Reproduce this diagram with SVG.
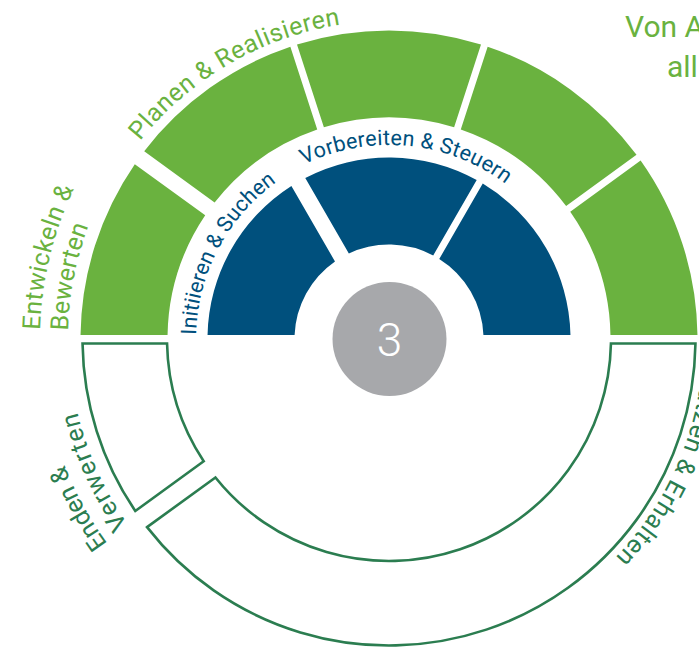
<svg xmlns="http://www.w3.org/2000/svg" width="699" height="649" viewBox="0 0 699 649">
  <style>
    .seg-green { fill: #6ab23f; }
    .seg-blue { fill: #00507d; }
    .seg-open { fill: #ffffff; stroke: #2b7d50; stroke-width: 2.6; }
    .hub { fill: #a7a8ab; }
    .lbl { font-family: Roboto, "Liberation Sans", sans-serif; font-size: 25px; }
    .lbl-green { fill: #6ab23f; }
    .lbl-blue { fill: #00507d; font-size: 21.5px; }
    .lbl-dark { fill: #2b7d50; }
    .title { font-family: Roboto, "Liberation Sans", sans-serif; font-size: 30px; fill: #6ab23f; }
    .num { font-family: Roboto, "Liberation Sans", sans-serif; font-size: 46px; font-weight: 300; fill: #ffffff; text-anchor: middle; }
  </style>
  <defs>
    <!-- baselines for the curved labels, all running clockwise around (389,339) -->
    <path id="arc-entwickeln" d="M 40.12,329.86 A 349 349 0 0 1 214.5,36.76"/>
    <path id="arc-bewerten" d="M 68.11,330.6 A 321 321 0 0 1 228.5,61.01"/>
    <path id="arc-planen" d="M 140.13,141.04 A 318 318 0 0 1 548,63.6"/>
    <path id="arc-initiieren" d="M 196.04,334.96 A 193 193 0 0 1 322.99,157.64"/>
    <path id="arc-vorbereiten" d="M 303.96,164.63 A 194 194 0 0 1 537.61,214.3"/>
    <path id="arc-erhalten" d="M 546.25,66.64 A 314.5 314.5 0 0 1 614.85,557.87"/>
    <path id="arc-enden" d="M 107.46,543.55 A 348 348 0 0 1 61.99,219.98"/>
    <path id="arc-verwerten" d="M 128.16,524.37 A 320 320 0 0 1 88.3,229.55"/>
  </defs>

  <!-- heading, running off the right edge -->
  <g id="heading">
    <text class="title" x="625" y="37">Von A</text>
    <text class="title" x="667" y="77">all</text>
  </g>

  <!-- outer ring, upper half -->
  <g id="entwickeln-bewerten">
    <path class="seg-green" d="M 80.53,335 A 308.5 308.5 0 0 1 134.8,164.2 L 205.22,215.36 A 221.5 221.5 0 0 0 167.54,335 Z"/>
    <text class="lbl lbl-green"><textPath href="#arc-entwickeln" textLength="146">Entwickeln &amp;</textPath></text>
    <text class="lbl lbl-green"><textPath href="#arc-bewerten" textLength="107">Bewerten</textPath></text>
  </g>
  <g id="planen-realisieren">
    <path class="seg-green" d="M 144.21,151.26 A 308.5 308.5 0 0 1 290.35,46.7 L 317.23,129.45 A 221.5 221.5 0 0 0 214.62,202.42 Z"/>
    <text class="lbl lbl-green"><textPath href="#arc-planen" textLength="237">Planen &amp; Realisieren</textPath></text>
  </g>
  <g id="outer-top">
    <path class="seg-green" d="M 297,44.54 A 308.5 308.5 0 0 1 481,44.54 L 454.11,127.29 A 221.5 221.5 0 0 0 323.89,127.29 Z"/>
  </g>
  <g id="outer-upper-right">
    <path class="seg-green" d="M 487.66,46.7 A 308.5 308.5 0 0 1 636.51,154.85 L 566.12,205.99 A 221.5 221.5 0 0 0 460.77,129.45 Z"/>
  </g>
  <g id="outer-right">
    <path class="seg-green" d="M 640.62,160.51 A 308.5 308.5 0 0 1 697.47,335 L 610.46,335 A 221.5 221.5 0 0 0 570.23,211.65 Z"/>
  </g>

  <!-- inner ring -->
  <g id="initiieren-suchen">
    <path class="seg-blue" d="M 207.54,335 A 181.5 181.5 0 0 1 291.41,185.97 L 334.99,261.45 A 94.5 94.5 0 0 0 294.59,335 Z"/>
    <text class="lbl lbl-blue"><textPath href="#arc-initiieren" textLength="179">Initiieren &amp; Suchen</textPath></text>
  </g>
  <g id="vorbereiten-steuern">
    <path class="seg-blue" d="M 305.27,177.97 A 181.5 181.5 0 0 1 476.7,180.1 L 433.19,255.47 A 94.5 94.5 0 0 0 348.85,253.45 Z"/>
    <text class="lbl lbl-blue"><textPath href="#arc-vorbereiten" textLength="213">Vorbereiten &amp; Steuern</textPath></text>
  </g>
  <g id="inner-right">
    <path class="seg-blue" d="M 482.76,183.6 A 181.5 181.5 0 0 1 570.46,335 L 483.42,335 A 94.5 94.5 0 0 0 439.25,258.97 Z"/>
  </g>

  <!-- hub -->
  <g id="hub">
    <circle class="hub" cx="389.5" cy="339" r="57"/>
    <text class="num" x="389.5" y="356">3</text>
  </g>

  <!-- outlined lower ring -->
  <g id="enden-verwerten">
    <path class="seg-open" d="M 82.53,343.5 L 167.05,343.5 A 222 222 0 0 0 203.7,461.27 L 135.29,510.97 A 306.5 306.5 0 0 1 82.53,343.5 Z"/>
    <text class="lbl lbl-dark"><textPath href="#arc-enden" textLength="90">Enden &amp;</textPath></text>
    <text class="lbl lbl-dark"><textPath href="#arc-verwerten" textLength="124">Verwerten</textPath></text>
  </g>
  <g id="nutzen-erhalten">
    <path class="seg-open" d="M 147.05,527.15 L 215.46,477.45 A 222 222 0 0 0 610.95,343.5 L 695.47,343.5 A 306.5 306.5 0 0 1 147.05,527.15 Z"/>
    <text class="lbl lbl-dark" letter-spacing="0.8" text-anchor="end"><textPath href="#arc-erhalten" startOffset="100%">Nutzen &amp; Erhalten</textPath></text>
  </g>
</svg>
